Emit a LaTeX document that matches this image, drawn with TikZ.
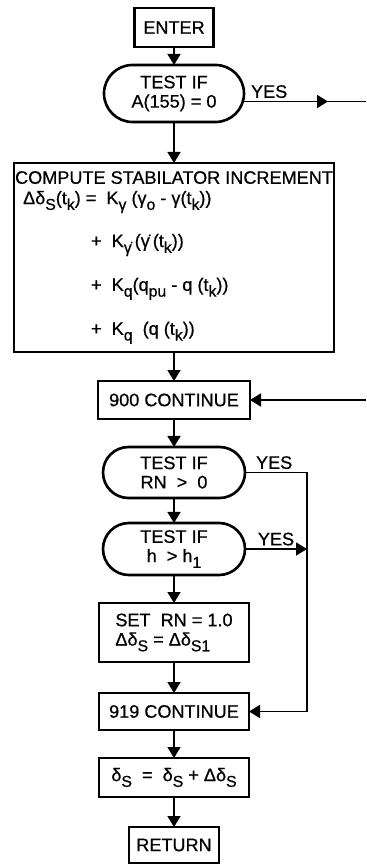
\documentclass[tikz,border=0pt]{standalone}
\usepackage{fontspec}
\setmainfont{Liberation Sans}[FakeBold=0.6]
\usetikzlibrary{positioning,arrows.meta,shapes.misc}
\newcommand{\lo}[1]{\raisebox{-0.6ex}{\fontsize{9}{9}\selectfont #1}}

\begin{document}
\begin{tikzpicture}[->, >={Triangle[width=0.26cm,length=0.22cm]}, line width=1pt,
	block/.style={draw, -, line width=1.5pt, minimum width=3cm, inner sep=0.1cm, outer sep=0pt,
		font=\fontsize{10.3}{11}\selectfont, align=center},
	decision/.style={block, rounded rectangle},
	yes/.style={above, inner sep=1.5pt, font=\fontsize{10.3}{11}\selectfont}]
		\useasboundingbox (0,0) rectangle (7.32,-17.3);

		\node[block, minimum width=1.58cm, minimum height=0.78cm] (enter) at (3.48,-0.55) {ENTER};
		\node[decision, minimum height=1.14cm] (test1) [below=0.36cm of enter] {TEST IF\\A(155) = 0};
		\node[block, minimum width=6.4cm, minimum height=3.78cm, align=left, inner xsep=0.02cm] (compute) [below=0.82cm of test1] {%
			COMPUTE STABILATOR INCREMENT\\[0.02cm]
			\hspace{0.16cm}Δδ\lo{S}(t\lo{k}) = \ K\lo{γ} (γ\lo{o} - γ(t\lo{k}))\\[0.38cm]
			\hspace{1.52cm}+ \ K\lo{γ̇}\,(γ̇\,(t\lo{k}))\\[0.4cm]
			\hspace{1.52cm}+ \ K\lo{q}(q\lo{pu} - q (t\lo{k}))\\[0.4cm]
			\hspace{1.52cm}+ \ K\lo{q} \ (q (t\lo{k}))};
		\node[block, minimum width=3.04cm, minimum height=0.76cm] (cont900) [below=0.58cm of compute] {900 CONTINUE};
		\node[decision, minimum width=3.04cm, minimum height=1.02cm] (test2) [below=0.56cm of cont900] {TEST IF\\RN \ > \ 0};
		\node[decision, minimum width=3.04cm, minimum height=1.04cm] (test3) [below=0.5cm of test2] {TEST IF\\h \ > h\lo{1}};
		\node[block, minimum height=1.18cm, align=left] (setrn) [below=0.56cm of test3] {SET \ RN = 1.0\\Δδ\lo{S} = Δδ\lo{S1}};
		\node[block, minimum height=0.74cm] (cont919) [below=0.62cm of setrn] {919 CONTINUE};
		\node[block, minimum height=0.78cm] (update) [below=0.56cm of cont919] {δ\lo{S} \ = \ δ\lo{S} + Δδ\lo{S}};
		\node[block, minimum width=1.8cm, minimum height=0.72cm] (return) [below=0.6cm of update] {RETURN};

		\path (enter) edge (test1)
			(test1) edge (compute)
			(compute) edge (cont900)
			(cont900) edge (test2)
			(test2) edge (test3)
			(test3) edge (setrn)
			(setrn) edge (cont919)
			(cont919) edge (update)
			(update) edge (return);

		% branches on the right
		\coordinate (rim) at (7.32,0);
		\coordinate (rail) at (6.14,0);
		\coordinate (tipA) at (6.56,0);
		\coordinate (yesA) at ([yshift=-0.16cm]test1.east);
		\draw (yesA) -- node[yes, pos=0.3] {YES} (yesA -| tipA);
		\draw[-] (yesA -| tipA) -- (yesA -| rim);
		\draw (cont900.east -| rim) -- (cont900.east);
		\draw (test2.east) -- node[yes, pos=0.47] {YES} (test2.east -| rail) |- (cont919.east);
		\draw (test3.east) -- node[yes, pos=0.5] {YES} (test3.east -| rail);
	\end{tikzpicture}
\end{document}
